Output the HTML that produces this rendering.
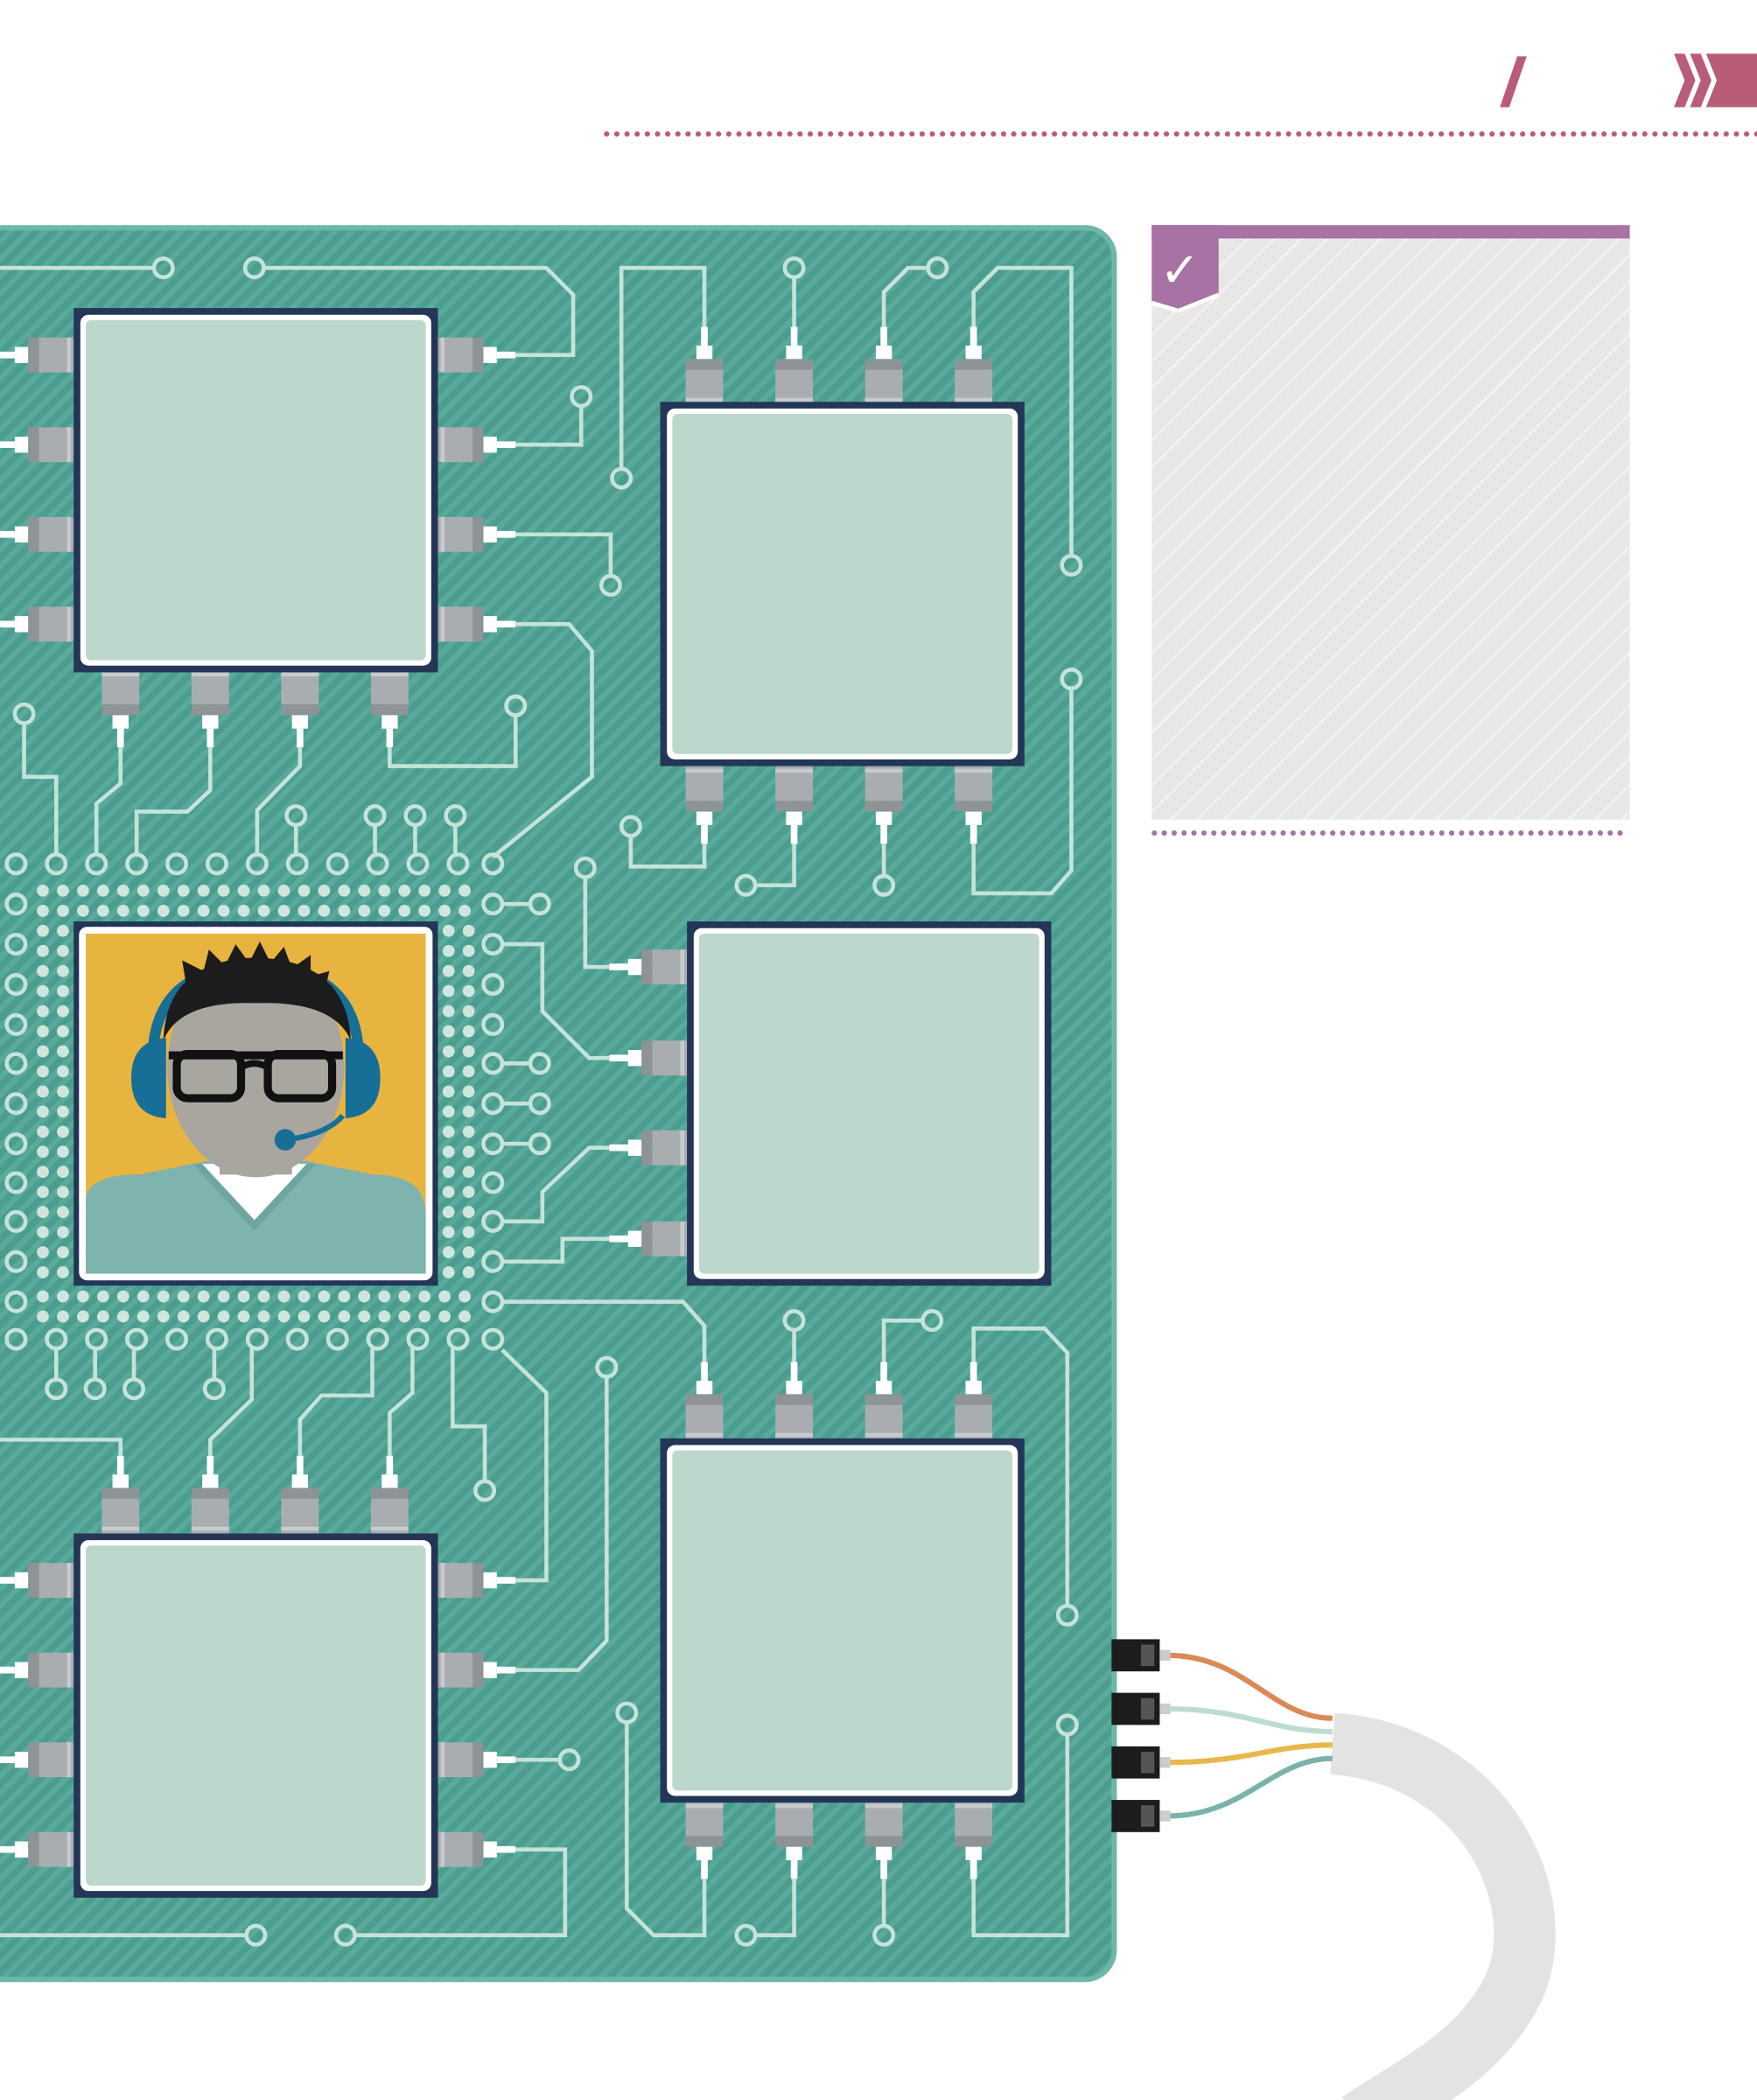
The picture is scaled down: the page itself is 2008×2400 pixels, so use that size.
<!DOCTYPE html>
<html><head><meta charset="utf-8"><style>
html,body{margin:0;padding:0;background:#fff;}
svg{display:block;}
</style></head><body>
<svg width="2008" height="2400" viewBox="0 0 1312 1568" xmlns="http://www.w3.org/2000/svg">
<defs>
<pattern id="st" width="9" height="9" patternUnits="userSpaceOnUse" patternTransform="rotate(45)">
<rect width="9" height="9" fill="#4b9e8f"/><rect width="4" height="9" fill="#5aaa9c"/>
</pattern>
<pattern id="gh" width="14" height="14" patternUnits="userSpaceOnUse" patternTransform="rotate(45)">
<rect width="14" height="14" fill="#e8e7e5"/><rect width="2" height="14" fill="#f2f1ef"/>
</pattern>
<g id="ph">
<rect x="0" y="-13" width="26" height="26" fill="#a9adb0"/>
<rect x="26" y="-13" width="8" height="26" fill="#8e9396"/>
<rect x="2" y="-13" width="3" height="26" fill="#c8cbcd"/>
<rect x="34" y="-6" width="10" height="12" fill="#fff"/>
<line x1="44" y1="0" x2="58" y2="0" stroke="#fff" stroke-width="5"/>
</g>
<g id="pv">
<rect x="-14" y="-26" width="28" height="26" fill="#a9adb0"/>
<rect x="-14" y="-34" width="28" height="8" fill="#8e9396"/>
<rect x="-14" y="-5" width="28" height="3" fill="#c8cbcd"/>
<rect x="-6" y="-44" width="12" height="10" fill="#fff"/>
<line x1="0" y1="-44" x2="0" y2="-58" stroke="#fff" stroke-width="5"/>
</g>
<g id="chip">
<rect x="0" y="0" width="272" height="272" fill="#233657"/>
<rect x="5" y="5" width="262" height="262" rx="6" fill="#fff"/>
<rect x="9" y="9" width="254" height="254" rx="4" fill="#bcd8cd"/>
</g>
<g id="rowdots" fill="#cfe6dd">
<circle cx="32" cy="0" r="4.5"/><circle cx="47" cy="0" r="4.5"/><circle cx="62" cy="0" r="4.5"/><circle cx="77" cy="0" r="4.5"/><circle cx="92" cy="0" r="4.5"/><circle cx="107" cy="0" r="4.5"/><circle cx="122" cy="0" r="4.5"/><circle cx="137" cy="0" r="4.5"/><circle cx="152" cy="0" r="4.5"/><circle cx="167" cy="0" r="4.5"/><circle cx="182" cy="0" r="4.5"/><circle cx="197" cy="0" r="4.5"/><circle cx="212" cy="0" r="4.5"/><circle cx="227" cy="0" r="4.5"/><circle cx="242" cy="0" r="4.5"/><circle cx="257" cy="0" r="4.5"/><circle cx="272" cy="0" r="4.5"/><circle cx="287" cy="0" r="4.5"/><circle cx="302" cy="0" r="4.5"/><circle cx="317" cy="0" r="4.5"/><circle cx="332" cy="0" r="4.5"/><circle cx="347" cy="0" r="4.5"/>
</g>
<g id="coldots" fill="#cfe6dd">
<circle cx="0" cy="695" r="4.5"/><circle cx="0" cy="710" r="4.5"/><circle cx="0" cy="725" r="4.5"/><circle cx="0" cy="740" r="4.5"/><circle cx="0" cy="755" r="4.5"/><circle cx="0" cy="770" r="4.5"/><circle cx="0" cy="785" r="4.5"/><circle cx="0" cy="800" r="4.5"/><circle cx="0" cy="815" r="4.5"/><circle cx="0" cy="830" r="4.5"/><circle cx="0" cy="845" r="4.5"/><circle cx="0" cy="860" r="4.5"/><circle cx="0" cy="875" r="4.5"/><circle cx="0" cy="890" r="4.5"/><circle cx="0" cy="905" r="4.5"/><circle cx="0" cy="920" r="4.5"/><circle cx="0" cy="935" r="4.5"/><circle cx="0" cy="950" r="4.5"/>
</g>
</defs>

<!-- header -->
<polygon points="1133,42 1140,42 1127,80 1120,80" fill="#b85c78"/>
<polygon points="1250,40 1258,40 1266,60 1258,80 1250,80 1258,60" fill="#b85c78"/>
<polygon points="1262,40 1270,40 1278,60 1270,80 1262,80 1270,60" fill="#b85c78"/>
<polygon points="1274,40 1312,40 1312,80 1274,80 1282,60" fill="#b85c78"/>
<line x1="453" y1="100" x2="1312" y2="100" stroke="#b85c78" stroke-width="4" stroke-dasharray="0 7.6" stroke-linecap="round"/>

<!-- right panel -->
<rect x="860" y="178" width="357" height="434" fill="url(#gh)"/>
<rect x="860" y="168" width="357" height="10" fill="#a872a4"/>
<path d="M860,168 H910 V220 L880,232 L860,226 Z" fill="#a872a4"/>
<path d="M860,226 L880,232 L910,220" fill="none" stroke="#fff" stroke-width="3"/>
<text x="866" y="214" font-family="DejaVu Sans, sans-serif" font-size="36" fill="#fff" font-weight="bold">✓</text>
<line x1="862" y1="622" x2="1217" y2="622" stroke="#a872a4" stroke-width="4" stroke-dasharray="0 7.4" stroke-linecap="round"/>

<!-- board -->
<rect x="-20" y="170" width="852" height="1308" rx="22" fill="url(#st)" stroke="#6db7a9" stroke-width="4"/>

<!-- traces -->
<g fill="none" stroke="#c6e3d9" stroke-width="3">
<polyline points="0,200 115,200"/><circle cx="122" cy="200" r="7"/>
<circle cx="190" cy="200" r="7"/><polyline points="197,200 408,200 428,220 428,265 385,265"/>
<circle cx="434" cy="296" r="7"/><polyline points="434,303 434,332 385,332"/>
<polyline points="385,399 456,399 456,430"/><circle cx="456" cy="437" r="7"/>
<polyline points="385,466 425,466 442,486 442,580 368,640"/>
<polyline points="464,350 464,200 526,200 526,245"/><circle cx="464" cy="357" r="7"/>
<circle cx="593" cy="200" r="7"/><line x1="593" y1="207" x2="593" y2="245"/>
<circle cx="700" cy="200" r="7"/><polyline points="693,200 678,200 660,218 660,245"/>
<polyline points="727,245 727,218 745,200 800,200 800,415"/><circle cx="800" cy="422" r="7"/>
<circle cx="800" cy="507" r="7"/><polyline points="800,514 800,650 785,667 727,667 727,630"/>
<circle cx="660" cy="661" r="7"/><line x1="660" y1="630" x2="660" y2="654"/>
<circle cx="557" cy="661" r="7"/><polyline points="564,661 593,661 593,630"/>
<circle cx="471" cy="617" r="7"/><polyline points="471,624 471,647 526,647 526,630"/>
<circle cx="437" cy="648" r="7"/><polyline points="437,655 437,722 455,722"/>
<polyline points="375,675 396,675"/><circle cx="403" cy="675" r="7"/>
<polyline points="375,705 405,705 405,755 440,790 455,790"/>
<polyline points="375,794 396,794"/><circle cx="403" cy="794" r="7"/>
<polyline points="375,824 396,824"/><circle cx="403" cy="824" r="7"/>
<polyline points="375,854 396,854"/><circle cx="403" cy="854" r="7"/>
<polyline points="375,912 405,912 405,890 440,857 455,857"/>
<polyline points="375,942 420,942 420,925 455,925"/>
<polyline points="375,972 510,972 526,990 526,1017"/>
<circle cx="593" cy="986" r="7"/><line x1="593" y1="993" x2="593" y2="1017"/>
<circle cx="696" cy="986" r="7"/><polyline points="689,986 660,986 660,1017"/>
<polyline points="727,1017 727,992 780,992 797,1010 797,1199"/><circle cx="797" cy="1206" r="7"/>
<circle cx="797" cy="1288" r="7"/><polyline points="797,1295 797,1445 727,1445 727,1403"/>
<circle cx="660" cy="1445" r="7"/><line x1="660" y1="1403" x2="660" y2="1438"/>
<circle cx="557" cy="1445" r="7"/><polyline points="564,1445 593,1445 593,1403"/>
<circle cx="468" cy="1279" r="7"/><polyline points="468,1286 468,1425 488,1445 526,1445 526,1403"/>
<circle cx="453" cy="1021" r="7"/><polyline points="453,1028 453,1225 432,1247 385,1247"/>
<polyline points="375,1008 408,1040 408,1180 385,1180"/>
<polyline points="385,1314 418,1314"/><circle cx="425" cy="1314" r="7"/>
<polyline points="385,1381 422,1381 422,1445 265,1445"/><circle cx="258" cy="1445" r="7"/>
<circle cx="191" cy="1445" r="7"/><line x1="0" y1="1445" x2="184" y2="1445"/>
<polyline points="0,1075 90,1075 90,1087"/>
<circle cx="362" cy="1113" r="7"/><polyline points="362,1106 362,1065 338,1065 338,1007"/>
<polyline points="291,1087 291,1055 308,1040 308,1007"/>
<polyline points="224,1087 224,1060 240,1042 278,1042 278,1007"/>
<polyline points="157,1087 157,1075 188,1045 188,1007"/>
<polyline points="42,1007 42,1030"/><circle cx="42" cy="1037" r="7"/>
<polyline points="71,1007 71,1030"/><circle cx="71" cy="1037" r="7"/>
<polyline points="100,1007 100,1030"/><circle cx="100" cy="1037" r="7"/>
<polyline points="160,1007 160,1030"/><circle cx="160" cy="1037" r="7"/>
<circle cx="18" cy="533" r="7"/><polyline points="18,540 18,580 42,580 42,638"/>
<polyline points="90,558 90,585 72,600 72,638"/>
<polyline points="157,558 157,590 140,606 102,606 102,638"/>
<polyline points="224,558 224,572 192,605 192,638"/>
<circle cx="385" cy="527" r="7"/><polyline points="385,534 385,572 291,572 291,558"/>
<circle cx="221" cy="609" r="7"/><line x1="221" y1="616" x2="221" y2="638"/>
<circle cx="280" cy="609" r="7"/><line x1="280" y1="616" x2="280" y2="638"/>
<circle cx="310" cy="609" r="7"/><line x1="310" y1="616" x2="310" y2="638"/>
<circle cx="340" cy="609" r="7"/><line x1="340" y1="616" x2="340" y2="638"/>
</g>

<!-- BGA -->
<g fill="none" stroke="#c6e3d9" stroke-width="3">
<circle cx="12" cy="645" r="7"/><circle cx="42" cy="645" r="7"/><circle cx="72" cy="645" r="7"/><circle cx="102" cy="645" r="7"/><circle cx="132" cy="645" r="7"/><circle cx="162" cy="645" r="7"/><circle cx="192" cy="645" r="7"/><circle cx="222" cy="645" r="7"/><circle cx="252" cy="645" r="7"/><circle cx="282" cy="645" r="7"/><circle cx="312" cy="645" r="7"/><circle cx="342" cy="645" r="7"/><circle cx="368" cy="645" r="7"/>
<circle cx="12" cy="1000" r="7"/><circle cx="42" cy="1000" r="7"/><circle cx="72" cy="1000" r="7"/><circle cx="102" cy="1000" r="7"/><circle cx="132" cy="1000" r="7"/><circle cx="162" cy="1000" r="7"/><circle cx="192" cy="1000" r="7"/><circle cx="222" cy="1000" r="7"/><circle cx="252" cy="1000" r="7"/><circle cx="282" cy="1000" r="7"/><circle cx="312" cy="1000" r="7"/><circle cx="342" cy="1000" r="7"/><circle cx="368" cy="1000" r="7"/>
<circle cx="12" cy="675" r="7"/><circle cx="12" cy="705" r="7"/><circle cx="12" cy="735" r="7"/><circle cx="12" cy="765" r="7"/><circle cx="12" cy="794" r="7"/><circle cx="12" cy="824" r="7"/><circle cx="12" cy="854" r="7"/><circle cx="12" cy="883" r="7"/><circle cx="12" cy="912" r="7"/><circle cx="12" cy="942" r="7"/><circle cx="12" cy="972" r="7"/>
<circle cx="368" cy="675" r="7"/><circle cx="368" cy="705" r="7"/><circle cx="368" cy="735" r="7"/><circle cx="368" cy="765" r="7"/><circle cx="368" cy="794" r="7"/><circle cx="368" cy="824" r="7"/><circle cx="368" cy="854" r="7"/><circle cx="368" cy="883" r="7"/><circle cx="368" cy="912" r="7"/><circle cx="368" cy="942" r="7"/><circle cx="368" cy="972" r="7"/>
</g>
<use href="#rowdots" transform="translate(0,665)"/>
<use href="#rowdots" transform="translate(0,680)"/>
<use href="#rowdots" transform="translate(0,968)"/>
<use href="#rowdots" transform="translate(0,983)"/>
<use href="#coldots" transform="translate(32,0)"/>
<use href="#coldots" transform="translate(47,0)"/>
<use href="#coldots" transform="translate(335,0)"/>
<use href="#coldots" transform="translate(350,0)"/>

<!-- chip1 pins -->
<use href="#ph" transform="translate(327,265)"/><use href="#ph" transform="translate(327,332)"/><use href="#ph" transform="translate(327,399)"/><use href="#ph" transform="translate(327,466)"/>
<use href="#ph" transform="translate(55,265) scale(-1,1)"/><use href="#ph" transform="translate(55,332) scale(-1,1)"/><use href="#ph" transform="translate(55,399) scale(-1,1)"/><use href="#ph" transform="translate(55,466) scale(-1,1)"/>
<use href="#pv" transform="translate(90,500) scale(1,-1)"/><use href="#pv" transform="translate(157,500) scale(1,-1)"/><use href="#pv" transform="translate(224,500) scale(1,-1)"/><use href="#pv" transform="translate(291,500) scale(1,-1)"/>
<use href="#chip" transform="translate(55,230)"/>
<!-- chip2 -->
<use href="#pv" transform="translate(526,302)"/><use href="#pv" transform="translate(593,302)"/><use href="#pv" transform="translate(660,302)"/><use href="#pv" transform="translate(727,302)"/>
<use href="#pv" transform="translate(526,572) scale(1,-1)"/><use href="#pv" transform="translate(593,572) scale(1,-1)"/><use href="#pv" transform="translate(660,572) scale(1,-1)"/><use href="#pv" transform="translate(727,572) scale(1,-1)"/>
<use href="#chip" transform="translate(493,300)"/>
<!-- chip4 -->
<use href="#ph" transform="translate(513,722) scale(-1,1)"/><use href="#ph" transform="translate(513,790) scale(-1,1)"/><use href="#ph" transform="translate(513,857) scale(-1,1)"/><use href="#ph" transform="translate(513,925) scale(-1,1)"/>
<use href="#chip" transform="translate(513,688)"/>
<!-- chip5 -->
<use href="#pv" transform="translate(526,1075)"/><use href="#pv" transform="translate(593,1075)"/><use href="#pv" transform="translate(660,1075)"/><use href="#pv" transform="translate(727,1075)"/>
<use href="#pv" transform="translate(526,1345) scale(1,-1)"/><use href="#pv" transform="translate(593,1345) scale(1,-1)"/><use href="#pv" transform="translate(660,1345) scale(1,-1)"/><use href="#pv" transform="translate(727,1345) scale(1,-1)"/>
<use href="#chip" transform="translate(493,1074)"/>
<!-- chip6 -->
<use href="#pv" transform="translate(90,1145)"/><use href="#pv" transform="translate(157,1145)"/><use href="#pv" transform="translate(224,1145)"/><use href="#pv" transform="translate(291,1145)"/>
<use href="#ph" transform="translate(327,1180)"/><use href="#ph" transform="translate(327,1247)"/><use href="#ph" transform="translate(327,1314)"/><use href="#ph" transform="translate(327,1381)"/>
<use href="#ph" transform="translate(55,1180) scale(-1,1)"/><use href="#ph" transform="translate(55,1247) scale(-1,1)"/><use href="#ph" transform="translate(55,1314) scale(-1,1)"/><use href="#ph" transform="translate(55,1381) scale(-1,1)"/>
<use href="#chip" transform="translate(55,1145)"/>

<!-- chip3 photo -->
<rect x="55" y="688" width="272" height="272" fill="#233657"/>
<rect x="59" y="692" width="264" height="264" rx="6" fill="#fff"/>
<svg x="64" y="697" width="254" height="254" viewBox="0 0 254 254">
<rect width="254" height="254" fill="#e8b440"/>
<path d="M0,200 Q0,180 40,180 L90,170 L165,170 L215,180 Q254,180 254,210 V254 H0 Z" fill="#7fb3ad"/>
<path d="M80,172 L126,222 L172,172 Z" fill="#6ea69f"/>
<path d="M87,172 L126,214 L165,172 Z" fill="#fff"/>
<rect x="100" y="140" width="54" height="40" fill="#a9a59f"/>
<path d="M50,95 Q50,25 127,25 Q204,25 204,95" fill="none" stroke="#176e96" stroke-width="8"/>
<ellipse cx="127" cy="100" rx="66" ry="82" fill="#a9a59f"/>
<path d="M58,80 Q60,20 127,18 Q195,20 198,80 Q185,50 127,52 Q70,50 58,80 Z" fill="#1c1c1c"/>
<path d="M75,38 L72,20 L88,28 L92,12 L104,24 L112,8 L122,22 L130,6 L138,22 L148,10 L154,26 L168,16 L168,32 L182,28 L178,44 Z" fill="#1c1c1c"/>
<path d="M60,78 Q34,80 34,108 Q34,136 60,138 Z" fill="#176e96"/>
<path d="M194,78 Q220,80 220,108 Q220,136 194,138 Z" fill="#176e96"/>
<rect x="68" y="90" width="48" height="33" rx="8" fill="none" stroke="#111" stroke-width="6"/>
<rect x="136" y="90" width="48" height="33" rx="8" fill="none" stroke="#111" stroke-width="6"/>
<path d="M116,100 Q126,94 136,100" fill="none" stroke="#111" stroke-width="5"/>
<rect x="62" y="88" width="130" height="6" fill="#111"/>
<path d="M192,136 Q180,150 150,154" fill="none" stroke="#176e96" stroke-width="4"/>
<circle cx="149" cy="154" r="8" fill="#176e96"/>
</svg>

<!-- cable -->
<path d="M995,1302 C1110,1310 1160,1420 1130,1485 C1105,1535 1060,1555 1015,1585" fill="none" stroke="#e3e3e2" stroke-width="46"/>
<g fill="none" stroke-width="4">
<path d="M872,1236 C930,1236 950,1283 995,1283" stroke="#d98a55"/>
<path d="M872,1276 C930,1276 950,1293 995,1293" stroke="#bcdcd2"/>
<path d="M872,1316 C930,1316 950,1303 995,1303" stroke="#e8b84a"/>
<path d="M872,1356 C930,1356 950,1313 995,1313" stroke="#7ab3aa"/>
</g>
<g>
<rect x="830" y="1224" width="36" height="24" fill="#1c1c1c"/><rect x="852" y="1228" width="10" height="16" fill="#555"/><rect x="866" y="1232" width="8" height="8" fill="#ccc"/>
<rect x="830" y="1264" width="36" height="24" fill="#1c1c1c"/><rect x="852" y="1268" width="10" height="16" fill="#555"/><rect x="866" y="1272" width="8" height="8" fill="#ccc"/>
<rect x="830" y="1304" width="36" height="24" fill="#1c1c1c"/><rect x="852" y="1308" width="10" height="16" fill="#555"/><rect x="866" y="1312" width="8" height="8" fill="#ccc"/>
<rect x="830" y="1344" width="36" height="24" fill="#1c1c1c"/><rect x="852" y="1348" width="10" height="16" fill="#555"/><rect x="866" y="1352" width="8" height="8" fill="#ccc"/>
</g>
</svg>
</body></html>
